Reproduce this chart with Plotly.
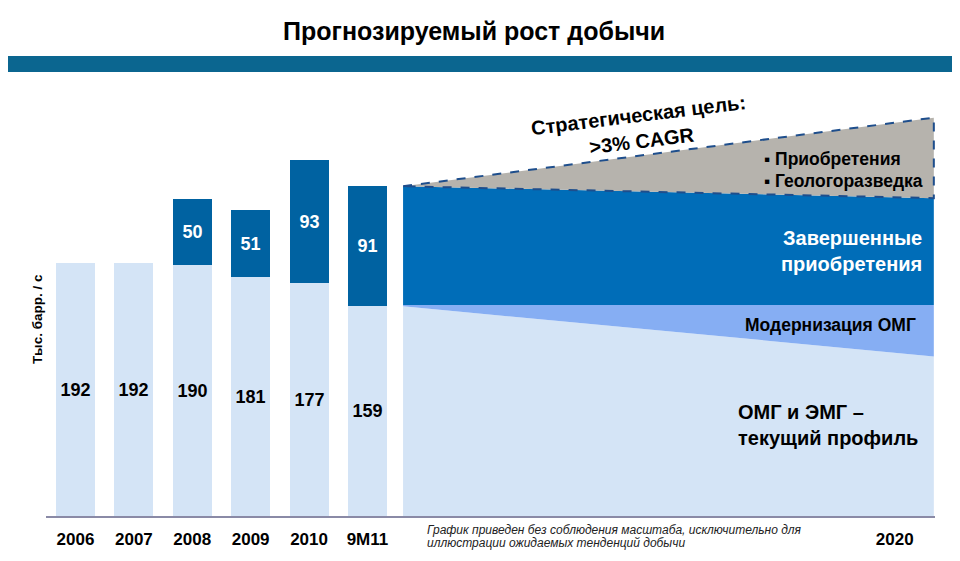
import plotly.graph_objects as go

# исторические данные, тыс. барр./с
years = ['2006', '2007', '2008', '2009', '2010', '9M11']
base_prod = [192, 192, 190, 181, 177, 159]      # ОМГ и ЭМГ
acq_prod = [None, None, 50, 51, 93, 91]         # завершенные приобретения

# прогноз (условная схема: начало после 9M11 и 2020)
fc_labels = ['start', '2020']
fc_pos = [5.61, 14.70]
fc_current = [159, 121]
fc_modern = [160, 160]
fc_completed = [250, 241]
fc_target = [250, 302]

tick_pos = [0, 1, 2, 3, 4, 5, 14.03]
tick_text = years + ['2020']

LIGHT = '#D4E4F6'
DARK_BAR = '#0062A1'
DARK_FC = '#006DB8'
MODERN = '#86AEF3'
GREY = '#B6B3AD'
DASH = '#1E4E8C'
FONT = 'Liberation Sans, Arial, sans-serif'

fig = go.Figure()

# прогнозная область
fig.add_trace(go.Scatter(x=fc_pos, y=fc_current, mode='lines', line=dict(width=0),
                         fill='tozeroy', fillcolor=LIGHT, hoverinfo='skip'))
fig.add_trace(go.Scatter(x=fc_pos, y=fc_modern, mode='lines', line=dict(width=0),
                         fill='tonexty', fillcolor=MODERN, hoverinfo='skip'))
fig.add_trace(go.Scatter(x=fc_pos, y=fc_completed, mode='lines', line=dict(width=0),
                         fill='tonexty', fillcolor=DARK_FC, hoverinfo='skip'))
fig.add_trace(go.Scatter(
    x=[fc_pos[0], fc_pos[1], fc_pos[1], fc_pos[0]],
    y=[fc_target[0], fc_target[1], fc_completed[1], fc_completed[0]],
    mode='lines', fill='toself', fillcolor=GREY,
    line=dict(color=DASH, width=2, dash='dash'), hoverinfo='skip'))

# столбцы
fig.add_trace(go.Bar(
    x=list(range(len(years))), y=base_prod, width=0.668,
    marker=dict(color=LIGHT, line=dict(width=0)),
    text=[f'<b>{v}</b>' for v in base_prod], textposition='inside',
    insidetextanchor='middle', textangle=0,
    textfont=dict(family=FONT, size=18, color='black')))
fig.add_trace(go.Bar(
    x=list(range(len(years))), y=[v if v else 0 for v in acq_prod], width=0.668,
    marker=dict(color=DARK_BAR, line=dict(width=0)),
    text=[f'<b>{v}</b>' if v else '' for v in acq_prod], textposition='inside',
    insidetextanchor='middle', textangle=0,
    textfont=dict(family=FONT, size=18, color='white')))

ann = [
    dict(text='<b>Прогнозируемый рост добычи</b>', xref='paper', yref='paper',
         x=0.481, y=1.114, font=dict(size=25, color='black')),
    dict(text='<b>Тыс. барр. / с</b>', xref='paper', yref='paper', x=-0.009, y=0.453,
         textangle=-90, font=dict(size=13.5, color='black')),
    dict(text='<b>Стратегическая цель:<br>&gt;3% CAGR</b>', x=9.67, y=294, textangle=-7,
         font=dict(size=20, color='black')),
    dict(text='<b>▪ Приобретения</b>', x=11.76, y=271, xanchor='left',
         font=dict(size=17.5, color='black')),
    dict(text='<b>▪ Геологоразведка</b>', x=11.76, y=254, xanchor='left',
         font=dict(size=17.5, color='black')),
    dict(text='<b>Завершенные<br>приобретения</b>', x=14.53, y=201, xanchor='right',
         align='right', font=dict(size=20, color='white')),
    dict(text='<b>Модернизация ОМГ</b>', x=14.43, y=145, xanchor='right',
         font=dict(size=17.5, color='black')),
    dict(text='<b>ОМГ и ЭМГ –</b>', x=11.31, y=79, xanchor='left',
         font=dict(size=20, color='black')),
    dict(text='<b>текущий профиль</b>', x=11.31, y=59, xanchor='left',
         font=dict(size=20, color='black')),
    dict(text='<i>График приведен без соблюдения масштаба, исключительно для</i>',
         xref='paper', yref='paper', x=0.426, y=-0.032, xanchor='left',
         font=dict(size=12, color='#222')),
    dict(text='<i>иллюстрации ожидаемых тенденций добычи</i>',
         xref='paper', yref='paper', x=0.426, y=-0.062, xanchor='left',
         font=dict(size=12, color='#222')),
]
for a in ann:
    a.setdefault('showarrow', False)
    a.setdefault('xref', 'x')
    a.setdefault('yref', 'y')
    a.setdefault('xanchor', 'center')
    a.setdefault('yanchor', 'middle')
    fig.add_annotation(**a)

# полоса под заголовком
fig.add_shape(type='rect', xref='paper', yref='paper', x0=-0.05, x1=1.04,
              y0=1.0206, y1=1.0572, fillcolor='#0B6690', line=dict(width=0), layer='above')

# страница имеет отступ 8px, поэтому фигура чуть меньше окна
fig.update_layout(
    width=952, height=553,
    margin=dict(l=38, r=25, t=73, b=43),
    paper_bgcolor='white', plot_bgcolor='white',
    barmode='stack', bargap=0, showlegend=False,
    font=dict(family=FONT, color='black'),
    xaxis=dict(range=[-0.505, 14.72], tickvals=tick_pos,
               ticktext=[f'<b>{t}</b>' for t in tick_text],
               tickfont=dict(size=17, color='black'), ticks='', ticklabelstandoff=7,
               showgrid=False, zeroline=False, showline=True,
               linecolor='#8A8AA6', linewidth=2, fixedrange=True),
    yaxis=dict(range=[0, 329.8], visible=False, fixedrange=True),
)

fig.write_html('out.html')
